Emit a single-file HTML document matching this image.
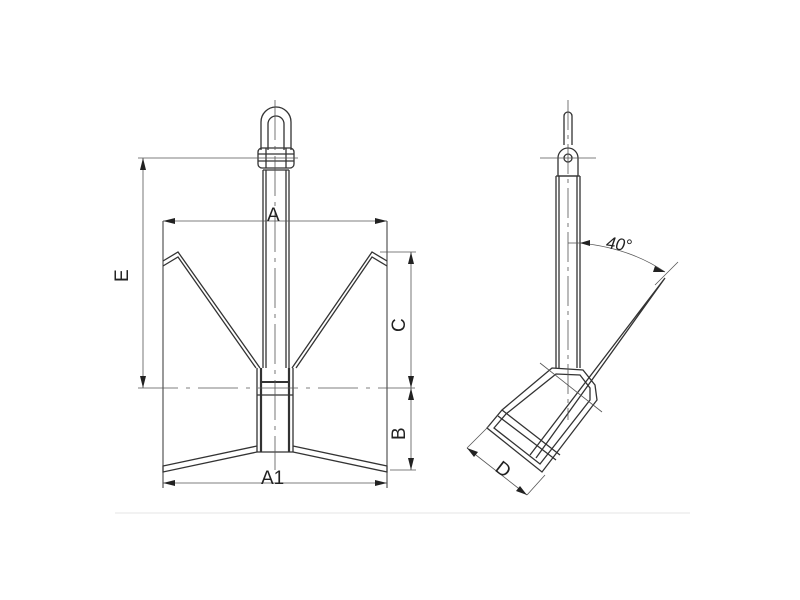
<!DOCTYPE html>
<html><head><style>html,body{margin:0;padding:0;background:#fff}svg{display:block}</style></head>
<body>
<svg width="800" height="600" viewBox="0 0 800 600" xmlns="http://www.w3.org/2000/svg" font-family="Liberation Sans, sans-serif">
<g fill="none" stroke="#333" stroke-width="1.3">
<path d="M261 150 V122 a15 15 0 0 1 30 0 V150"/>
<path d="M268 150 V124 a8 8 0 0 1 16 0 V150"/>
<rect x="258" y="148" width="36" height="20" rx="4"/>
<line x1="258" y1="154" x2="294" y2="154"/><line x1="258" y1="161" x2="294" y2="161"/>
<line x1="266" y1="148" x2="266" y2="168"/><line x1="286" y1="148" x2="286" y2="168"/>
<line x1="263" y1="170" x2="263" y2="368"/><line x1="266" y1="170" x2="266" y2="368"/>
<line x1="286" y1="170" x2="286" y2="368"/><line x1="289" y1="170" x2="289" y2="368"/>
<line x1="263" y1="170" x2="289" y2="170"/>
<path d="M163 261 L178 252 L260 368 M163 266 L178 257 L256 368"/>
<path d="M387 261 L372 252 L292 368 M387 266 L372 257 L296 368"/>
<line x1="257" y1="368" x2="257" y2="452"/><line x1="293" y1="368" x2="293" y2="452"/>
<line x1="261" y1="368" x2="261" y2="452" stroke-width="2.2"/><line x1="289" y1="368" x2="289" y2="452" stroke-width="2.2"/>
<line x1="261" y1="382" x2="289" y2="382" stroke-width="2"/>
<line x1="257" y1="395" x2="293" y2="395"/>
<line x1="257" y1="452" x2="293" y2="452"/>
<path d="M257 446 L163 466 L163 472 L257 452"/>
<path d="M293 446 L387 466 L387 472 L293 452"/>
<line x1="163" y1="221" x2="163" y2="488" stroke-width="1"/>
<line x1="387" y1="221" x2="387" y2="488" stroke-width="1"/>
</g>
<g stroke="#555" stroke-width="0.8" fill="none">
<line x1="275" y1="100" x2="275" y2="470" stroke-dasharray="40 6 4 6"/>
<line x1="138" y1="158" x2="298" y2="158"/>
<line x1="138" y1="388" x2="415" y2="388" stroke-dasharray="40 8 4 8"/>
<line x1="143" y1="158" x2="143" y2="388"/>
<line x1="163" y1="221" x2="387" y2="221"/>
<line x1="163" y1="483" x2="387" y2="483"/>
<line x1="380" y1="252" x2="416" y2="252"/>
<line x1="390" y1="470" x2="416" y2="470"/>
<line x1="411" y1="252" x2="411" y2="470"/>
<line x1="115" y1="513" x2="690" y2="513" stroke="#ddd"/>
</g>
<g fill="#222">
<path d="M143 158 l-3 12 h6z M143 388 l-3 -12 h6z"/>
<path d="M163 221 l12 -3 v6z M387 221 l-12 -3 v6z"/>
<path d="M163 483 l12 -3 v6z M387 483 l-12 -3 v6z"/>
<path d="M411 252 l-3 12 h6z M411 388 l-3 -12 h6z M411 388 l-3 12 h6z M411 470 l-3 -12 h6z"/>
</g>
<g fill="#222" font-size="19">
<text x="267" y="221">A</text>
<text x="261" y="484">A1</text>
<text x="0" y="0" transform="translate(128 282) rotate(-90)">E</text>
<text x="0" y="0" transform="translate(405 332) rotate(-90)">C</text>
<text x="0" y="0" transform="translate(405 440) rotate(-90)">B</text>
</g>
<g fill="none" stroke="#333" stroke-width="1.3">
<path d="M564 145 V116 a4 4 0 0 1 8 0 V145"/>
<path d="M558 176 V158 a10 10 0 0 1 20 0 V176 Z"/>
<circle cx="568" cy="158" r="4"/>
<line x1="556" y1="176" x2="556" y2="368"/><line x1="580" y1="176" x2="580" y2="368"/>
<line x1="559" y1="176" x2="559" y2="368"/><line x1="577" y1="176" x2="577" y2="368"/>
<line x1="556" y1="176" x2="580" y2="176"/>
<path d="M665 278 L530 455 M665 278 L536 458"/>
<path d="M552 368 L583 370 L595 385 L597 400 L542 472 L487 428 L502 410 Z"/>
<path d="M556 374 L580 375 L590 388 L590 400 L540 464 L494 428 L506 414 Z"/>
<path d="M502 410 L560 455 M498 416 L556 460"/>
</g>
<g stroke="#555" stroke-width="0.8" fill="none">
<line x1="568" y1="100" x2="568" y2="420" stroke-dasharray="30 5 4 5"/>
<line x1="540" y1="158" x2="596" y2="158"/>
<line x1="568" y1="243" x2="580" y2="243"/>
<path d="M580 243 Q630 248 665 272"/>
<line x1="655" y1="285" x2="678" y2="262"/>
<line x1="540" y1="363" x2="602" y2="412"/>
<line x1="467" y1="448" x2="527" y2="495"/>
<line x1="467" y1="448" x2="490" y2="425"/>
<line x1="527" y1="495" x2="545" y2="475"/>
</g>
<g fill="#222">
<path d="M580 243 l10 -3 v6z"/>
<path d="M665 272 l-10 -6 l-2 6z"/>
<path d="M467 448 l11 4 l-4 5z M527 495 l-11 -4 l4 -5z"/>
</g>
<text x="606" y="250" font-size="17" font-style="italic" fill="#222" transform="rotate(8 620 245)">40°</text>
<text x="0" y="0" font-size="19" fill="#222" transform="translate(494 470) rotate(38)">D</text>
</svg>
</body></html>
